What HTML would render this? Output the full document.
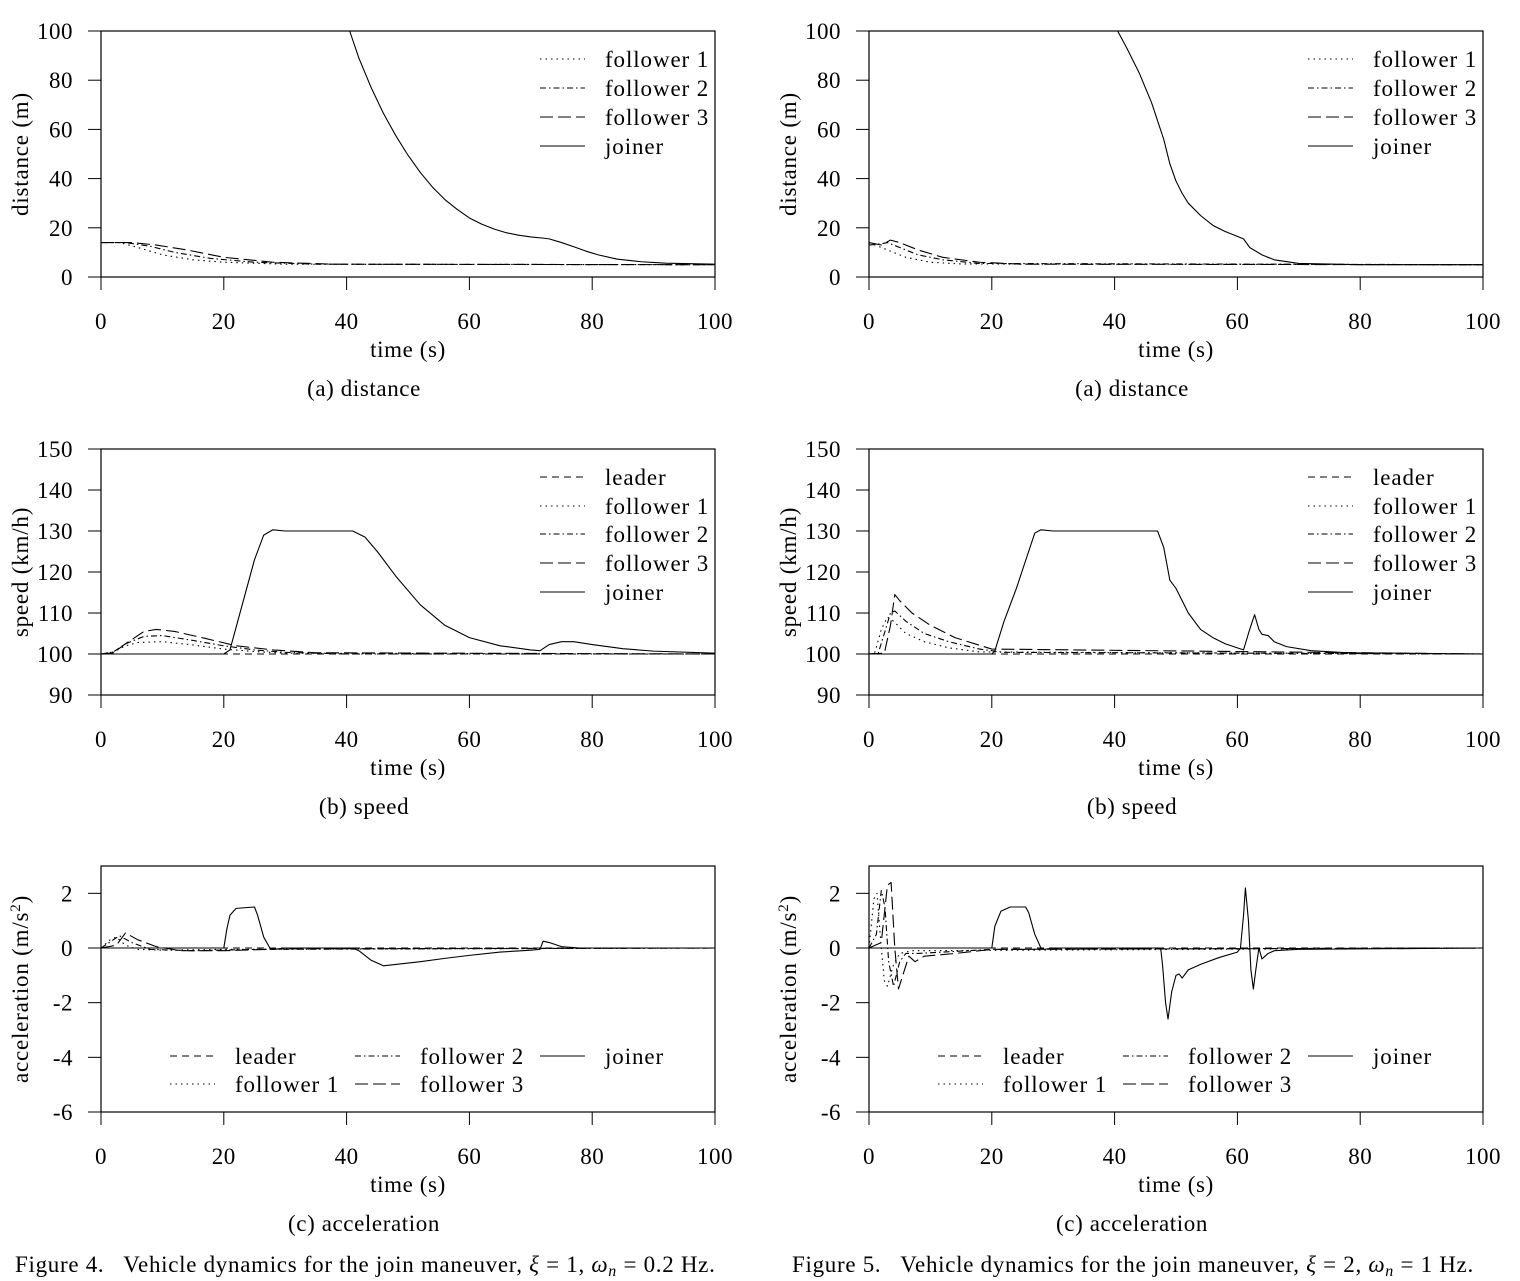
<!DOCTYPE html>
<html><head><meta charset="utf-8"><style>
html,body{margin:0;padding:0;background:#fff}
svg{display:block;font-family:"Liberation Serif",serif}
</style></head><body>
<svg id="fig" width="1520" height="1281" viewBox="0 0 1520 1281" xmlns="http://www.w3.org/2000/svg"></svg>
<script>
// ---------- data (time s, value) ----------
const xTicks = [0,20,40,60,80,100];
const distTicks = [0,20,40,60,80,100];
const speedTicks = [90,100,110,120,130,140,150];
const accTicks = [-6,-4,-2,0,2];
const accTickLabels = ["-6","-4","-2","0","2"];

// Fig 4 distance
const f4DistF1 = [[0,14],[3,14],[6,12],[10,9],[15,7],[20,6],[30,5.2],[100,5]];
const f4DistF2 = [[0,14],[4,14],[8,12.5],[12,10],[18,7.5],[25,6],[35,5.2],[100,5]];
const f4DistF3 = [[0,14],[5,14],[9,13],[14,11],[20,8],[28,6],[38,5.2],[100,5]];
const f4DistJ = [[40.5,100],[42,89],[44,77],[46,66.5],[48,57.5],[50,49.5],[52,42.5],[54,36.5],[56,31.5],[58,27.5],[60,24],[62,21.5],[64,19.5],[66,18],[68,17],[70,16.3],[72,15.8],[73,15.5],[75,14],[77,12.3],[79,10.5],[81,9],[84,7.3],[88,6.2],[92,5.6],[100,5.2]];
// Fig 5 distance
const f5DistF1 = [[0,14],[2,12],[4,10],[6,8],[10,6],[15,5.3],[100,5]];
const f5DistF2 = [[0,13],[2,13.5],[3,14],[5,12],[8,9],[12,7],[18,5.5],[100,5]];
const f5DistF3 = [[0,14],[2,13],[3.5,15],[5,14],[8,11],[12,8],[18,6],[25,5.2],[100,5]];
const f5DistJ = [[40.5,100],[42,93],[44,83],[46,71],[48,56],[49,46],[50,39],[51,34],[52,30],[54,25],[56,21],[58,18.5],[60,16.5],[61,15.5],[62,12],[64,9],[66,7],[70,5.5],[80,5],[100,5]];
// Fig 4 speed
const f4SpL = [[0,100],[100,100]];
const f4SpF1 = [[0,100],[2,100.5],[4,102],[6,102.8],[10,103],[15,102.2],[20,101.2],[25,100.6],[30,100.2],[100,100]];
const f4SpF2 = [[0,100],[2,100.5],[4,102.5],[7,104.3],[10,104.5],[15,103.3],[20,102],[25,101],[30,100.4],[40,100],[100,100]];
const f4SpF3 = [[0,100],[2,100.3],[4,102.5],[7,105.5],[9,106],[12,105.5],[17,103.8],[22,102],[28,101],[35,100.3],[100,100]];
const f4SpJ = [[0,100],[20,100],[21,101],[23,112],[25,123],[26.5,129],[28,130.3],[30,130],[41,130],[43,128.5],[45,125],[48,119],[52,112],[56,107],[60,104],[65,102],[70,101],[71.5,100.8],[73,102.3],[75,103],[77,103],[80,102.3],[85,101.3],[90,100.7],[100,100.2]];
// Fig 5 speed
const f5SpL = [[0,100],[100,100]];
const f5SpF1 = [[0,100],[1,100.5],[2,106],[3,109],[4,108],[6,105],[9,103],[13,101.5],[18,100.5],[100,100]];
const f5SpF2 = [[0,100],[1.5,100.2],[2.5,105],[3.5,110],[4.2,110.5],[6,108],[9,105],[13,103],[18,101.2],[22,100.4],[100,100]];
const f5SpF3 = [[0,100],[2.5,100.2],[3.5,107],[4.2,114.5],[5,113],[7,110],[10,107],[14,104],[20,101.2],[100,100]];
const f5SpJ = [[0,100],[20,100],[20.5,100.8],[22,108],[24,116],[26,125],[27,129.5],[28,130.3],[30,130],[47,130],[48,126],[49,118],[50,116],[52,110],[54,106],[56,104],[58,102.5],[60,101.5],[61,101],[62,106],[62.8,109.6],[63.5,106],[64,104.8],[65,104.5],[66,103],[68,101.8],[72,100.8],[78,100.3],[100,100]];
// Fig 4 acceleration
const f4AcL = [[0,0],[100,0]];
const f4AcF1 = [[0,0],[1.5,0.3],[2.5,0.4],[4,0.1],[6,-0.05],[10,-0.08],[20,-0.05],[100,0]];
const f4AcF2 = [[0,0],[2,0.3],[3,0.45],[5,0.2],[8,-0.05],[15,-0.1],[25,-0.05],[100,0]];
const f4AcF3 = [[0,0],[2.5,0.1],[4,0.55],[6,0.3],[9,0.05],[13,-0.1],[20,-0.1],[30,-0.03],[100,0]];
const f4AcJ = [[0,0],[20,0],[20.5,0.7],[21,1.2],[22,1.45],[25,1.5],[25.5,1.2],[26.5,0.4],[27.5,0],[28,-0.05],[30,0],[41,0],[42,-0.1],[44,-0.45],[46,-0.65],[48,-0.6],[52,-0.5],[56,-0.38],[60,-0.27],[65,-0.15],[70,-0.08],[71.5,-0.05],[72,0.25],[73,0.2],[75,0.05],[78,0],[100,0]];
// Fig 5 acceleration
const f5AcL = [[0,0],[100,0]];
const f5AcF1 = [[0,0],[0.8,1.8],[1.3,2.0],[2,0],[2.5,-1.2],[3,-1.4],[4,-0.6],[5,-0.2],[7,-0.1],[100,0]];
const f5AcF2 = [[0,0],[1.2,0.5],[2,2.1],[2.6,1.5],[3.2,-0.5],[4,-1.4],[5,-0.5],[6,-0.2],[8,-0.2],[12,-0.15],[20,-0.05],[100,0]];
const f5AcF3 = [[0,0],[2,0.2],[3,2.3],[3.6,2.4],[4.2,0],[4.8,-1.5],[5.5,-1.0],[6.5,-0.3],[7.5,-0.5],[9,-0.3],[14,-0.2],[20,-0.05],[100,0]];
const f5AcJ = [[0,0],[20,0],[20.5,0.8],[21.5,1.35],[23,1.5],[25.5,1.5],[26,1.3],[27,0.5],[28,0],[28.5,-0.05],[30,0],[47.5,0],[47.8,-0.6],[48.3,-2.0],[48.7,-2.6],[49.3,-1.6],[50,-1.0],[50.5,-0.95],[51,-1.1],[52,-0.8],[54,-0.6],[57,-0.35],[60,-0.15],[60.5,0],[61,1.2],[61.3,2.2],[61.8,1.0],[62.2,-0.8],[62.6,-1.5],[63,-0.8],[63.5,0],[64,-0.4],[65,-0.2],[66,-0.1],[70,-0.05],[100,0]];

// ---------- rendering ----------
const NS="http://www.w3.org/2000/svg";
const svg=document.getElementById('fig');
const DASH={leader:"7,5",f1:"1.5,4",f2:"6,3,1.5,3",f3:"13,5",joiner:""};
const LBL={leader:"leader",f1:"follower 1",f2:"follower 2",f3:"follower 3",joiner:"joiner"};
const FS="23";
function mk(tag,attrs,parent){const e=document.createElementNS(NS,tag);for(const k in attrs)e.setAttribute(k,attrs[k]);(parent||svg).appendChild(e);return e;}
function txt(s,attrs,parent){const e=mk('text',attrs,parent);e.textContent=s;return e;}

function panel(o){
  const g=mk('g',{});
  
  
  const x0=o.x0,x1=o.x0+614,yTop=o.yTop,yBot=o.yTop+246;
  const sx=v=>x0+(v-0)/100*(x1-x0);
  const sy=v=>yBot-(v-o.ymin)/(o.ymax-o.ymin)*(yBot-yTop);
  for(const s of o.series){
    const p=mk('polyline',{points:s.data.map(d=>sx(d[0]).toFixed(2)+","+sy(d[1]).toFixed(2)).join(" "),fill:"none",stroke:"#000","stroke-width":"1.1","stroke-dasharray":DASH[s.k],"stroke-linejoin":"round"},g);
    
    
  }
  const fr=mk('rect',{x:x0,y:yTop,width:x1-x0,height:yBot-yTop,fill:"none",stroke:"#000","stroke-width":"1.2"},g);
  
  
  xTicks.forEach(t=>{
    mk('line',{x1:sx(t),x2:sx(t),y1:yBot,y2:yBot+13,stroke:"#000","stroke-width":"1"},g);
    const tl=txt(String(t),{x:sx(t),y:yBot+52,"text-anchor":"middle","font-size":FS,"letter-spacing":"0.5"},g);
    
    
  });
  o.yTicks.forEach((t,i)=>{
    mk('line',{x1:x0-13,x2:x0,y1:sy(t),y2:sy(t),stroke:"#000","stroke-width":"1"},g);
    const tl=txt(o.yLabels?o.yLabels[i]:String(t),{x:x0-28,y:sy(t)+8,"text-anchor":"end","font-size":FS,"letter-spacing":"0.5"},g);
    
    
  });
  const xt=txt("time (s)",{x:(x0+x1)/2,y:yBot+80,"text-anchor":"middle","font-size":FS,"letter-spacing":"0.6"},g);
  
  
  const yt=txt(o.ytitle,{x:0,y:0,"text-anchor":"middle","font-size":FS,"letter-spacing":"0.8",transform:`translate(${x0-73},${(yTop+yBot)/2}) rotate(-90)`},g);
  if(o.sup){const ts=mk('tspan',{dy:"-8","font-size":"15"},yt);ts.textContent="2";const t2=mk('tspan',{dy:"8"},yt);t2.textContent=")";}
  
  
  const cap=txt(o.caption,{x:x0+263,y:yBot+119,"text-anchor":"middle","font-size":FS,"letter-spacing":"0.6"},g);
  
  
  o.legend.forEach(L=>{
    const lg=mk('g',{},g);
    
    
    mk('line',{x1:x0+L.dx,x2:x0+L.dx+45,y1:L.y-4,y2:L.y-4,stroke:"#000","stroke-width":"1.1","stroke-dasharray":DASH[L.k]},lg);
    txt(LBL[L.k],{x:x0+L.dx+65,y:L.y+4,"font-size":FS,"letter-spacing":"0.9"},lg);
  });
}
function topLegend(){return [{k:"f1",dx:439,y:63},{k:"f2",dx:439,y:92},{k:"f3",dx:439,y:121},{k:"joiner",dx:439,y:150}];}
function midLegend(){return [{k:"leader",dx:439,y:481},{k:"f1",dx:439,y:510},{k:"f2",dx:439,y:538},{k:"f3",dx:439,y:567},{k:"joiner",dx:439,y:596}];}
function botLegend(){return [{k:"leader",dx:69,y:1060},{k:"f2",dx:254,y:1060},{k:"joiner",dx:439,y:1060},{k:"f1",dx:69,y:1088},{k:"f3",dx:254,y:1088}];}

[[101,"4",[f4DistF1,f4DistF2,f4DistF3,f4DistJ],[f4SpL,f4SpF1,f4SpF2,f4SpF3,f4SpJ],[f4AcL,f4AcF1,f4AcF2,f4AcF3,f4AcJ]],
 [869,"5",[f5DistF1,f5DistF2,f5DistF3,f5DistJ],[f5SpL,f5SpF1,f5SpF2,f5SpF3,f5SpJ],[f5AcL,f5AcF1,f5AcF2,f5AcF3,f5AcJ]]].forEach(c=>{
  const [x0,fig,D,S,A]=c;
  panel({name:'distance-panel-fig'+fig,x0,yTop:31,ymin:0,ymax:100,yTicks:distTicks,ytitle:"distance (m)",caption:"(a) distance",
    series:[{k:"f1",data:D[0]},{k:"f2",data:D[1]},{k:"f3",data:D[2]},{k:"joiner",data:D[3]}],legend:topLegend()});
  panel({name:'speed-panel-fig'+fig,x0,yTop:449,ymin:90,ymax:150,yTicks:speedTicks,ytitle:"speed (km/h)",caption:"(b) speed",
    series:[{k:"leader",data:S[0]},{k:"f1",data:S[1]},{k:"f2",data:S[2]},{k:"f3",data:S[3]},{k:"joiner",data:S[4]}],legend:midLegend()});
  panel({name:'acceleration-panel-fig'+fig,x0,yTop:866,ymin:-6,ymax:3,yTicks:accTicks,yLabels:accTickLabels,ytitle:"acceleration (m/s",sup:true,caption:"(c) acceleration",
    series:[{k:"leader",data:A[0]},{k:"f1",data:A[1]},{k:"f2",data:A[2]},{k:"f3",data:A[3]},{k:"joiner",data:A[4]}],legend:botLegend()});
});
</script>
<svg width="1520" height="1281" style="position:absolute;left:0;top:0">
<text x="15" y="1272" font-size="23" letter-spacing="0.7" font-family="Liberation Serif,serif" xml:space="preserve">Figure 4.   Vehicle dynamics for the join maneuver, <tspan font-style="italic">ξ</tspan> = 1, <tspan font-style="italic">ω</tspan><tspan font-style="italic" font-size="16" dy="4">n</tspan><tspan dy="-4"> = 0.2 Hz.</tspan></text>
<text x="792" y="1272" font-size="23" letter-spacing="0.7" font-family="Liberation Serif,serif" xml:space="preserve">Figure 5.   Vehicle dynamics for the join maneuver, <tspan font-style="italic">ξ</tspan> = 2, <tspan font-style="italic">ω</tspan><tspan font-style="italic" font-size="16" dy="4">n</tspan><tspan dy="-4"> = 1 Hz.</tspan></text>
</svg>
</body></html>
